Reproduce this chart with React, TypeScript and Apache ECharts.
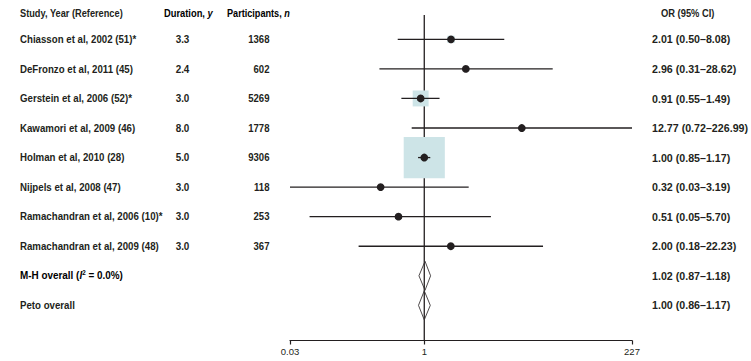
import React, { useEffect, useRef } from 'react';
import * as echarts from 'echarts';

const studies = [
  'Chiasson et al, 2002 (51)*',
  'DeFronzo et al, 2011 (45)',
  'Gerstein et al, 2006 (52)*',
  'Kawamori et al, 2009 (46)',
  'Holman et al, 2010 (28)',
  'Nijpels et al, 2008 (47)',
  'Ramachandran et al, 2006 (10)*',
  'Ramachandran et al, 2009 (48)',
];
const durations = ['3.3', '2.4', '3.0', '8.0', '5.0', '3.0', '3.0', '3.0'];
const participants = [1368, 602, 5269, 1778, 9306, 118, 253, 367];
const oddsRatios = [2.01, 2.96, 0.91, 12.77, 1.0, 0.32, 0.51, 2.0];
const ciLow = [0.5, 0.31, 0.55, 0.72, 0.85, 0.03, 0.05, 0.18];
const ciHigh = [8.08, 28.62, 1.49, 226.99, 1.17, 3.19, 5.7, 22.23];
const weights = [2.5, 1.5, 12, 0.5, 80, 1, 1.5, 1];

const pooledNames = ['M-H overall', 'Peto overall'];
const pooledOR = [1.02, 1.0];
const pooledLow = [0.87, 0.86];
const pooledHigh = [1.18, 1.17];

const axisTicks = [0.03, 1, 227];
const xMin = 0.03;
const xMax = 227;

const fmt = (v: number) => v.toFixed(2);

export default function App() {
  const ref = useRef<HTMLDivElement>(null);
  useEffect(() => {
    const chart = echarts.init(ref.current!, null, { renderer: 'svg' });
    const ink = '#231f20';
    const family = '"Liberation Sans", Arial, sans-serif';
    const headerRow = -0.89;
    const yMin = -0.824;
    const yMax = 10.19;
    const nStudies = studies.length;

    const richBase = { fontFamily: family, fontSize: 11, fontWeight: 'bold', color: ink };

    const text = (x: number, y: number, t: string, align: string = 'left', sx: number = 1, extra: any = {}) => ({
      type: 'text',
      x,
      y,
      scaleX: sx,
      style: {
        x: 0,
        y: 0,
        text: t,
        fill: ink,
        fontFamily: family,
        fontSize: 11,
        fontWeight: 'bold',
        align,
        verticalAlign: 'middle',
        ...extra,
      },
    });

    const rowCount = nStudies + pooledNames.length;
    const textRows = [headerRow, ...Array.from({ length: rowCount }, (_, i) => i)];

    chart.setOption({
      animation: false,
      grid: { left: 290, right: 119, top: 15, bottom: 20.5 },
      xAxis: {
        type: 'log',
        logBase: 10,
        min: xMin,
        max: xMax,
        splitLine: { show: false },
        axisLine: { show: true, onZero: false, lineStyle: { color: ink, width: 1.2 } },
        axisTick: { show: true, customValues: axisTicks, inside: false, length: 4, lineStyle: { color: ink, width: 1.2 } },
        axisLabel: {
          show: true,
          customValues: axisTicks,
          color: ink,
          fontFamily: family,
          fontSize: 9.5,
          margin: 6,
          formatter: (v: number) => String(Number(Number(v).toPrecision(3))),
        },
      },
      yAxis: { type: 'value', inverse: true, min: yMin, max: yMax, show: false },
      series: [
        {
          type: 'custom',
          name: 'reference',
          data: [[1]],
          renderItem: (params: any, api: any) => {
            const top = api.coord([1, yMin]);
            const bot = api.coord([1, yMax]);
            return {
              type: 'line',
              shape: { x1: top[0], y1: top[1], x2: bot[0], y2: bot[1] },
              style: { stroke: ink, lineWidth: 1.3 },
            };
          },
        },
        {
          type: 'custom',
          name: 'weights',
          data: oddsRatios.map((v, i) => [v, i, weights[i]]),
          renderItem: (params: any, api: any) => {
            const c = api.coord([api.value(0), api.value(1)]);
            const side = 4.6 * Math.sqrt(api.value(2));
            return {
              type: 'rect',
              shape: { x: c[0] - side / 2, y: c[1] - side / 2, width: side, height: side },
              style: { fill: '#cde4e7' },
            };
          },
        },
        {
          type: 'custom',
          name: 'ci',
          data: oddsRatios.map((v, i) => [ciLow[i], ciHigh[i], i]),
          renderItem: (params: any, api: any) => {
            const a = api.coord([api.value(0), api.value(2)]);
            const b = api.coord([api.value(1), api.value(2)]);
            return {
              type: 'line',
              shape: { x1: a[0], y1: a[1], x2: b[0], y2: b[1] },
              style: { stroke: ink, lineWidth: 1.3 },
            };
          },
        },
        {
          type: 'custom',
          name: 'or',
          data: oddsRatios.map((v, i) => [v, i]),
          renderItem: (params: any, api: any) => {
            const c = api.coord([api.value(0), api.value(1)]);
            return {
              type: 'circle',
              shape: { cx: c[0], cy: c[1], r: 3.9 },
              style: { fill: ink },
            };
          },
        },
        {
          type: 'custom',
          name: 'pooled',
          data: pooledOR.map((v, i) => [v, pooledLow[i], pooledHigh[i], nStudies + i]),
          renderItem: (params: any, api: any) => {
            const row = api.value(3);
            const c = api.coord([api.value(0), row]);
            const l = api.coord([api.value(1), row]);
            const r = api.coord([api.value(2), row]);
            const h = 14.5;
            return {
              type: 'polygon',
              shape: { points: [[l[0], c[1]], [c[0], c[1] - h], [r[0], c[1]], [c[0], c[1] + h]] },
              style: { fill: 'none', stroke: '#3a3637', lineWidth: 0.9 },
            };
          },
        },
        {
          type: 'custom',
          name: 'texts',
          data: textRows.map((r) => [1, r]),
          renderItem: (params: any, api: any) => {
            const idx = params.dataIndex;
            const y = api.coord([1, api.value(1)])[1];
            const children: any[] = [];
            if (idx === 0) {
              children.push(text(20, y, 'Study, Year (Reference)', 'left', 0.84));
              children.push({
                type: 'text',
                x: 164,
                y,
                scaleX: 0.85,
                style: {
                  x: 0, y: 0, text: '{a|Duration, }{i|y}', align: 'left', verticalAlign: 'middle',
                  rich: { a: richBase, i: { ...richBase, fontStyle: 'italic' } },
                },
              });
              children.push({
                type: 'text',
                x: 227,
                y,
                scaleX: 0.83,
                style: {
                  x: 0, y: 0, text: '{a|Participants, }{i|n}', align: 'left', verticalAlign: 'middle',
                  rich: { a: richBase, i: { ...richBase, fontStyle: 'italic' } },
                },
              });
              children.push(text(661, y, 'OR (95% CI)', 'left', 0.85));
            } else {
              const i = idx - 1;
              if (i < nStudies) {
                children.push(text(20, y, studies[i], 'left', 0.88));
                children.push(text(182.5, y, durations[i], 'center', 0.9));
                children.push(text(269.5, y, String(participants[i]), 'right', 0.87));
                children.push(text(652, y, `${fmt(oddsRatios[i])} (${fmt(ciLow[i])}\u2013${fmt(ciHigh[i])})`, 'left', 0.97));
              } else {
                const p = i - nStudies;
                if (p === 0) {
                  children.push({
                    type: 'text',
                    x: 20,
                    y,
                    scaleX: 0.9,
                    style: {
                      x: 0, y: 0, text: '{a|M-H overall (}{i|I}{s|2}{a| = 0.0%)}', align: 'left', verticalAlign: 'middle',
                      rich: {
                        a: richBase,
                        i: { ...richBase, fontStyle: 'italic' },
                        s: { ...richBase, fontSize: 7, verticalAlign: 'top', padding: [0, 0, 6, 0] },
                      },
                    },
                  });
                } else {
                  children.push(text(20, y, pooledNames[p], 'left', 0.88));
                }
                children.push(text(652, y, `${fmt(pooledOR[p])} (${fmt(pooledLow[p])}\u2013${fmt(pooledHigh[p])})`, 'left', 0.97));
              }
            }
            return { type: 'group', children };
          },
        },
      ],
    });
    return () => chart.dispose();
  }, []);
  return <div ref={ref} style={{ width: 751, height: 361, position: 'absolute', left: 0, top: 0, background: '#fff' }} />;
}
